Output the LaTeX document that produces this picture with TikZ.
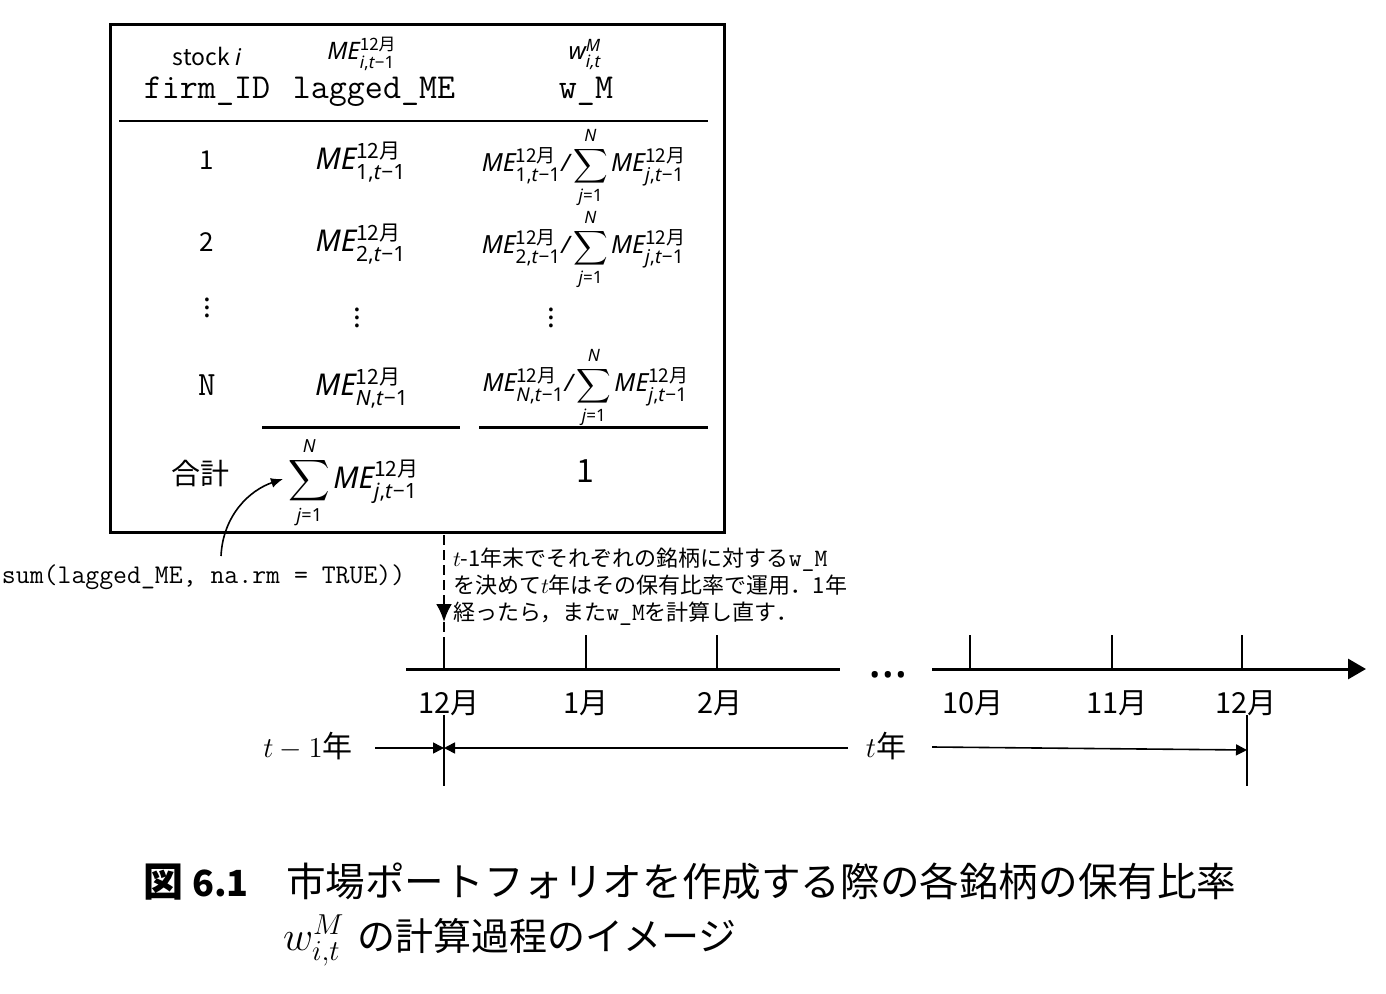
\documentclass[tikz,border=0pt]{standalone}
\usepackage{amsmath}
\usepackage{fontspec}
\setmainfont{Noto Sans CJK JP}
\newfontfamily\notosans{Noto Sans}
\usetikzlibrary{arrows.meta}
\newcommand\fs[1]{\fontsize{#1}{#1}\selectfont}
\newcommand\iv[1]{{\notosans\itshape #1}}
% ME with superscript 12月 and a subscript: {base size}{script size}{subscript}
\newcommand\MEx[3]{{\fs{#1}\iv{ME}$^{\mbox{\fs{#2}12月}}_{\mbox{\fs{#2}\notosans #3}}$}}
% sum j=1..N : {size}{limit size}
\newcommand\SUMx[2]{{\fs{#1}$\displaystyle\sum_{\mbox{\fs{#2}\notosans\textit{j}=1}}^{\mbox{\fs{#2}\notosans\textit{N}}}$}}
\newcommand\wcell[1]{\MEx{12.5}{9.5}{#1}{\fs{12}\iv{/}}\,\SUMx{12.5}{8.5}\,\MEx{12.5}{9.5}{\textit{j},\textit{t}−1}}
\begin{document}
\begin{tikzpicture}[x=0.5pt,y=-0.5pt,
  txt/.style={inner sep=0pt,outer sep=0pt,anchor=base},
  frame/.style={line width=1.5pt},
  thinrule/.style={line width=0.8pt},
  thickrule/.style={line width=1.5pt},
  tick/.style={line width=1pt},
  axis/.style={line width=1.5pt},
  lbl/.style={txt,font=\fs{14.5}},
  spanarrow/.style={line width=0.8pt,-{Triangle[length=5.5pt,width=5.5pt]}},
  dasharrow/.style={line width=1.25pt,dash pattern=on 5pt off 2.5pt}]
\useasboundingbox (0,0) rectangle (1386,994);

% table frame and rules
\draw[frame] (110,25) rectangle (724,532);
\draw[thinrule] (119,121) -- (708,121);
\draw[thickrule] (262,427) -- (460,427);
\draw[thickrule] (479,427) -- (708,427);

% header
\node[txt] (h1a) at (207,66) {\fs{11.5}stock \iv{i}};
\node[txt] (h1b) at (362,60) {\MEx{12}{8.5}{\textit{i},\textit{t}−1}};
\node[txt] (h1c) at (585,60) {\fs{12}\iv{w}$^{\mbox{\fs{8.5}\iv{M}}}_{\mbox{\fs{8.5}\iv{i,t}}}$};
\node[txt] (h2a) at (207,99) {\ttfamily\fs{17.5}firm\_ID};
\node[txt] (h2b) at (374,99) {\ttfamily\fs{17.5}lagged\_ME};
\node[txt] (h2c) at (586,99) {\ttfamily\fs{17.5}w\_M};

% rows
\node[txt] (r1a) at (207,170) {\fs{13}1};
\node[txt] (r1b) at (361,170) {\MEx{15}{10.5}{1,\textit{t}−1}};
\node[txt] (r1c) at (584,172) {\wcell{1,\textit{t}−1}};
\node[txt] (r2a) at (207,252) {\fs{13}2};
\node[txt] (r2b) at (361,252) {\MEx{15}{10.5}{2,\textit{t}−1}};
\node[txt] (r2c) at (584,254) {\wcell{2,\textit{t}−1}};
\node[txt] (r3a) at (207,318) {\fs{14}$\vdots$};
\node[txt] (r3b) at (357,328) {\fs{14}$\vdots$};
\node[txt] (r3c) at (551,328) {\fs{14}$\vdots$};
\node[txt] (rNa) at (207,396) {\ttfamily\fs{17}N};
\node[txt] (rNb) at (362,396) {\MEx{15}{10.5}{\textit{N},\textit{t}−1}};
\node[txt] (rNc) at (586,392) {\wcell{\textit{N},\textit{t}−1}};

% sum row
\node[txt] (sa) at (200,484) {\fs{14.5}合計};
\node[txt] (sb) at (354,488) {\SUMx{14}{9}\,\MEx{15}{10.5}{\textit{j},\textit{t}−1}};
\node[txt] (sc) at (585,482) {\fs{16}1};

% R code annotation
\node[txt,anchor=base west] (code) at (2,583) {\ttfamily\fs{13.5}sum(lagged\_ME, na.rm = TRUE))};
\coordinate (c0) at (221,556);
\coordinate (c1) at (283,479);
\draw[line width=0.8pt,-{Latex[length=6pt,width=5pt]}] (c0) .. controls (223,515) and (250,490) .. (c1);

% dashed arrow from table to time axis
\coordinate (d0) at (444,535);
\coordinate (d1) at (444,622);
\coordinate (d2) at (444,637);
\draw[dasharrow,-{Latex[length=9pt,width=8pt]}] (d0) -- (d1);
\draw[dasharrow] (d1) -- (d2);

% explanation
\node[txt,anchor=base west] (e1) at (453,566) {\fs{11}$t$-1年末でそれぞれの銘柄に対する{\ttfamily\fs{12.5}w\_M}};
\node[txt,anchor=base west] (e2) at (453,593) {\fs{11}を決めて$t$年はその保有比率で運用．1年};
\node[txt,anchor=base west] (e3) at (453,620) {\fs{11}経ったら，また{\ttfamily\fs{12.5}w\_M}を計算し直す．};

% time axis
\coordinate (a0) at (406,669);
\coordinate (a1) at (840,669);
\coordinate (a2) at (932,669);
\coordinate (a3) at (1366,669);
\draw[axis] (a0) -- (a1);
\draw[axis,-{Triangle[length=9pt,width=10pt]}] (a2) -- (a3);
\node[txt] (dots) at (888,677) {\notosans\bfseries\fs{25}…};
\draw[tick] (d2) -- (444,669);
\foreach \x/\n in {586/t1,717/t2,970/t10,1112/t11,1242/t12}{
  \coordinate (\n top) at (\x,635);
  \coordinate (\n bot) at (\x,669);
  \draw[tick] (\n top) -- (\n bot);
}
\node[lbl] (m12a) at (449,713) {12月};
\node[lbl] (m1) at (586,713) {1月};
\node[lbl] (m2) at (720,713) {2月};
\node[lbl] (m10) at (973,713) {10月};
\node[lbl] (m11) at (1117,713) {11月};
\node[lbl] (m12b) at (1246,713) {12月};

% year spans
\coordinate (v0t) at (444,715);
\coordinate (v0b) at (444,786);
\coordinate (v1t) at (1247,715);
\coordinate (v1b) at (1247,786);
\draw[tick] (v0t) -- (v0b);
\draw[tick] (v1t) -- (v1b);
\node[txt] (ytm1) at (308,757) {\fs{15}$t-1$年};
\node[txt] (yt) at (886,757) {\fs{15}$t$年};
\coordinate (p0) at (375,748);
\coordinate (p1) at (444,748);
\coordinate (p2) at (848,748);
\coordinate (p3) at (932,747);
\coordinate (p4) at (1247,750);
\draw[spanarrow] (p0) -- (p1);
\draw[spanarrow] (p2) -- (p1);
\draw[spanarrow] (p3) -- (p4);

% caption
\node[txt,anchor=base west] (cap0) at (143,896) {\fs{20}\bfseries 図 {\fs{18}6.1}};
\node[txt,anchor=base west] (cap1) at (286,896) {\fs{19.8}市場ポートフォリオを作成する際の各銘柄の保有比率};
\node[txt,anchor=base west] (cap2) at (283,950) {\fs{20}$w^M_{i,t}$};
\node[txt,anchor=base west] (cap3) at (357,950) {\fs{19}の計算過程のイメージ};
\end{tikzpicture}
\end{document}
